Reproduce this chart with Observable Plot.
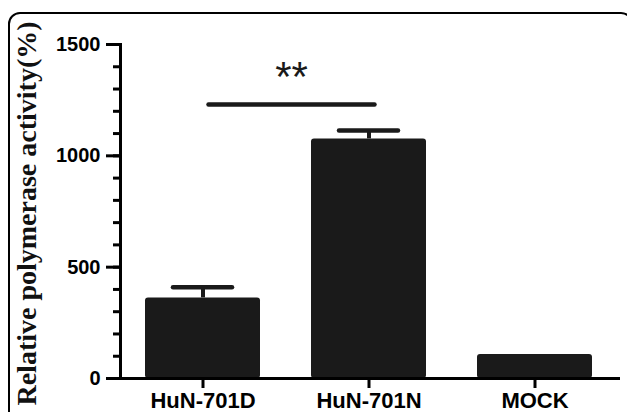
<!DOCTYPE html>
<html>
<head>
<meta charset="utf-8">
<script src="https://cdn.jsdelivr.net/npm/d3@7"></script>
<script src="https://cdn.jsdelivr.net/npm/@observablehq/plot@0.6"></script>
<style>
  html, body { margin: 0; padding: 0; background: #fff; overflow: hidden; }
  #wrap { position: relative; width: 627px; height: 412px; }
  #border { position: absolute; left: 8px; top: 12px; width: 625px; height: 440px;
            border: 2.5px solid #000; border-radius: 12px; box-sizing: border-box; }
  #chart { position: absolute; left: 0; top: 0; }
  g[aria-label="ylabel"] text { letter-spacing: 1.2px; }
</style>
</head>
<body>
<div id="wrap"><div id="border"></div><div id="chart"></div></div>
<script>
const categories = ["HuN-701D", "HuN-701N", "MOCK"];
const values = [362, 1076, 108];
const errors = [48, 38, 0];
const majorTicks = [0, 500, 1000, 1500];
const minorTicks = [0, 100, 200, 300, 400, 500, 600, 700, 800, 900, 1000, 1100, 1200, 1300, 1400, 1500];
const sigPair = ["HuN-701D", "HuN-701N"];
const sigLevel = 1230;
const sigLabel = "**";
const yLabel = "Relative polymerase activity(%)";

const data = categories.map((c, i) => ({cat: c, value: values[i], err: errors[i]}));
const withErr = data.filter(d => d.err > 0);

const W = 627, H = 412, ML = 120, MR = 9, MT = 44, MB = 34;
const step = (W - ML - MR) / categories.length;

const sans = "'Liberation Sans', Arial, sans-serif";
const serif = "'Liberation Serif', 'Times New Roman', serif";

const plot = Plot.plot({
  width: W,
  height: H,
  marginLeft: ML,
  marginRight: MR,
  marginTop: MT,
  marginBottom: MB,
  style: {fontFamily: sans, background: "transparent", overflow: "visible"},
  x: {domain: categories, paddingInner: 0.305, paddingOuter: 0.1525, label: null},
  y: {domain: [0, 1500], label: null},
  marks: [
    Plot.barY(data, {x: "cat", y: "value", fill: "#1a1a1a", rx: 3}),
    Plot.ruleX(withErr, {x: "cat", y1: "value", y2: d => d.value + d.err, stroke: "#1a1a1a", strokeWidth: 4}),
    Plot.tickY(withErr, {x: "cat", y: d => d.value + d.err, stroke: "#1a1a1a", strokeWidth: 4.5, strokeLinecap: "round", insetLeft: 28, insetRight: 28}),
    Plot.line(sigPair.map(c => ({cat: c, y: sigLevel})), {x: "cat", y: "y", dx: 5.5, stroke: "#1a1a1a", strokeWidth: 4.5, strokeLinecap: "round"}),
    Plot.text([{cat: sigPair[0], y: sigLevel}], {x: "cat", y: "y", text: () => sigLabel, dx: step / 2 + 5.5, dy: -27, fontSize: 42, fill: "#1a1a1a"}),
    Plot.frame({anchor: "left", stroke: "#000", strokeWidth: 3}),
    Plot.frame({anchor: "bottom", stroke: "#000", strokeWidth: 3}),
    Plot.axisY({ticks: minorTicks, tickSize: 7, tickFormat: () => "", strokeWidth: 3, stroke: "#000", label: null}),
    Plot.axisY({ticks: majorTicks, tickSize: 14, tickPadding: 6, strokeWidth: 3, stroke: "#000", fill: "#000",
                fontSize: 20, fontWeight: "bold", tickFormat: d => String(d), label: null}),
    Plot.axisX({tickSize: 10, tickPadding: 4, strokeWidth: 3, stroke: "#000", fill: "#000",
                fontSize: 22, fontWeight: "bold", label: null}),
    Plot.text([yLabel], {ariaLabel: "ylabel", frameAnchor: "left", textAnchor: "middle", rotate: -90, dx: -93, dy: 2, fontFamily: serif, fontWeight: "bold", fontSize: 28, fill: "#111", text: d => d})
  ]
});
document.getElementById("chart").appendChild(plot);
</script>
</body>
</html>
